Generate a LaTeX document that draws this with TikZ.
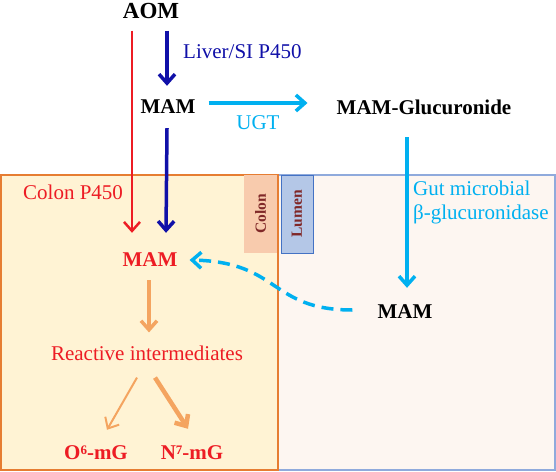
\documentclass[tikz,border=0pt]{standalone}
\usepackage{fontspec}
\setmainfont{Liberation Serif}
\usetikzlibrary{arrows.meta,positioning,calc}
\definecolor{aomred}{RGB}{237,28,36}
\definecolor{liverblue}{RGB}{16,16,168}
\definecolor{ugtcyan}{RGB}{0,176,240}
\definecolor{riorange}{RGB}{244,164,96}
\definecolor{colonedge}{RGB}{230,125,50}
\definecolor{colonfill}{RGB}{255,243,212}
\definecolor{lumenfill}{RGB}{253,246,241}
\definecolor{lumenedge}{RGB}{143,170,220}
\definecolor{tabsalmon}{RGB}{248,203,173}
\definecolor{tabblue}{RGB}{180,199,231}
\definecolor{tabedge}{RGB}{68,114,196}
\definecolor{tabtext}{RGB}{128,40,40}
\newcommand{\supnum}[1]{\raisebox{0.22em}{\fontsize{13}{13}\selectfont #1}}
\tikzset{
	mol/.style={inner sep=0pt, text height=14pt, text depth=0pt, font=\fontsize{21}{25}\selectfont\bfseries},
	enz/.style={inner sep=0pt, font=\fontsize{21}{25}\selectfont},
	tabbox/.style={rotate=90, inner sep=0pt, minimum width=78pt, font=\fontsize{15.5}{18}\selectfont\bfseries, text=tabtext},
	flow/.style={-{Straight Barb[length=9pt,width=16pt]}, line width=#1},
}

\begin{document}
\begin{tikzpicture}[x=1pt,y=-1pt]
	\useasboundingbox (0,0) rectangle (556,471);
	\draw[lumenedge, fill=lumenfill, line width=1.2pt] (278,175) rectangle (555,470);
	\draw[colonedge, fill=colonfill, line width=1.2pt] (1,175) rectangle (278,470);
	\node[tabbox, fill=tabsalmon, minimum height=33pt] (colontab) at (260.5,214) {Colon};
	\node[tabbox, fill=tabblue, draw=tabedge, line width=0.8pt, minimum height=32pt] (lumentab) at (297,214) {Lumen};

	\node[mol, text height=15pt, font=\fontsize{23}{27}\selectfont\bfseries] (aom) at (151,11) {AOM};
	\node[mol] (mam1) at (168,106) {MAM};
	\node[mol] (gluc) at (424,107) {MAM-Glucuronide};
	\node[mol, aomred] (mamc) at (150,259) {MAM};
	\node[mol] (maml) at (405,311) {MAM};
	\node[enz, aomred] (ri) at (147,353) {Reactive intermediates};
	\node[mol, aomred] (o6) at (96,452) {O\supnum{6}-mG};
	\node[mol, aomred] (n7) at (192,452) {N\supnum{7}-mG};

	\node[enz, liverblue, anchor=west] (liver) at (183,52) {Liver/SI P450};
	\node[enz, ugtcyan] (ugt) at (258,123) {UGT};
	\node[enz, aomred, anchor=west] (cp450) at (23,192) {Colon P450};
	\node[enz, ugtcyan, anchor=base west] (gut) at (413,195) {Gut microbial};
	\node[enz, ugtcyan, anchor=base west] (gluc2) at (413,219) {β-glucuronidase};

	\draw[flow=2.5pt, aomred] ($(aom.south)+(-19,12)$) -- ($(mamc.north)+(-18,-19)$);
	\draw[flow=3.5pt, liverblue] ($(aom.south)+(16,12)$) -- ($(mam1.north)+(-1,-13)$);
	\draw[flow=3.5pt, liverblue] ($(mam1.south)+(-1,15)$) -- ($(mamc.north)+(16,-19)$);
	\draw[flow=3.5pt, ugtcyan] ($(mam1.east)+(13,-3)$) -- ($(gluc.west)+(-29,-4)$);
	\draw[flow=3.5pt, ugtcyan] ($(gluc.south)+(-17,23)$) -- ($(maml.north)+(2,-16)$);
	\draw[flow=3.5pt, ugtcyan, dash pattern=on 12pt off 7pt] ($(maml.west)+(-25,-1)$) .. controls +(-83,0) and +(91,2) .. ($(mamc.east)+(12,1)$);
	\draw[flow=3.5pt, riorange] ($(mamc.south)+(-1,14)$) -- ($(ri.north)+(2,-13)$);
	\draw[flow=2pt, riorange] ($(ri.south)+(-10,17)$) -- ($(o6.north)+(11,-15)$);
	\draw[flow=4.5pt, riorange] ($(ri.south)+(8,17)$) -- ($(n7.north)+(-4,-16)$);
\end{tikzpicture}
\end{document}
